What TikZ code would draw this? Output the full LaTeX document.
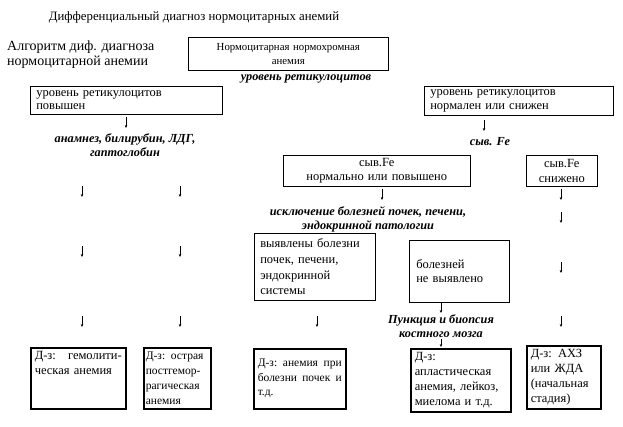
\documentclass[tikz,border=0pt]{standalone}
\usepackage{fontspec}
\setmainfont{Liberation Serif}
\usetikzlibrary{arrows.meta}
\begin{document}
\begin{tikzpicture}[x=1pt,y=-1pt,
  box/.style={draw, line width=0.6pt, inner xsep=6pt, inner ysep=0pt, anchor=north west, font=\fontsize{12.5}{14.5}\selectfont},
  tbox/.style={box, line width=1.6pt, inner xsep=4pt, font=\fontsize{12.5}{15}\selectfont},
  lab/.style={font=\fontsize{12.3}{14.5}\selectfont\bfseries\itshape, align=center, inner sep=0pt},
  plain/.style={font=\fontsize{14}{14.5}\selectfont, inner sep=0pt},
  arr/.style={-{Stealth[length=3pt,width=2.6pt]}, line width=0.5pt}]
\useasboundingbox (0,0) rectangle (623,427);

% title and side label
\node[font=\fontsize{12.8}{15}\selectfont, inner sep=0pt] (title) at (194,17) {Дифференциальный диагноз нормоцитарных анемий};
\node[plain, anchor=north west, align=left] (alg) at (7,41) {Алгоритм диф. диагноза\\нормоцитарной анемии};

% boxes
\node[box, minimum width=200pt, minimum height=33pt, text width=188pt, align=center, font=\fontsize{10.8}{14}\selectfont] (top) at (188,37) {Нормоцитарная нормохромная\\анемия};
\node[lab] (ret) at (306,79) {уровень ретикулоцитов};

\node[box, minimum width=192pt, minimum height=28pt, text width=180pt, align=left, font=\fontsize{12.5}{13.5}\selectfont] (up) at (30,86) {уровень ретикулоцитов\\повышен};
\node[box, minimum width=189pt, minimum height=29pt, text width=177pt, align=left, font=\fontsize{12.5}{13.5}\selectfont] (norm) at (424,86) {уровень ретикулоцитов\\нормален или снижен};

\node[lab] (anam) at (125,145) {анамнез, билирубин, ЛДГ,\\гаптоглобин};
\node[lab] (fe) at (490,142) {сыв. Fe};

\node[box, minimum width=187pt, minimum height=31pt, text width=175pt, align=center] (feN) at (283,155) {сыв.Fe\\нормально или повышено};
\node[box, minimum width=71pt, minimum height=31pt, text width=59pt, align=center] (feL) at (526,155) {сыв.Fe\\снижено};

\node[lab] (excl) at (368,219.5) {исключение болезней почек, печени,\\эндокринной патологии};

\node[box, minimum width=121pt, minimum height=67pt, text width=109pt, align=left, font=\fontsize{12.5}{15.7}\selectfont] (found) at (254,233) {выявлены болезни\\почек, печени,\\эндокринной\\системы};
\node[box, minimum width=99pt, minimum height=62pt, text width=86pt, align=left, inner xsep=7pt] (none) at (409,240) {болезней\\не выявлено};

\node[lab] (punc) at (441,326) {Пункция и биопсия\\костного мозга};

% diagnosis boxes
\node[tbox, minimum width=95pt, minimum height=61pt, text width=87pt, align=left] (d1) at (30,347) {Д-з:\hfill гемолити-\\ческая анемия\\\mbox{}\\\mbox{}};
\node[tbox, minimum width=67pt, minimum height=61pt, text width=63pt, align=left, inner xsep=2pt, font=\fontsize{11.5}{15}\selectfont] (d2) at (143,347) {Д-з: острая\\постгемор-\\рагическая\\анемия};
\node[tbox, minimum width=92pt, minimum height=60pt, text width=84pt, align=left, font=\fontsize{11.5}{14.5}\selectfont] (d3) at (253,348) {Д-з:\hfill анемия\hfill при\\болезни\hfill почек\hfill и\\т.д.};
\node[tbox, minimum width=100pt, minimum height=63pt, text width=92pt, align=left] (d4) at (410,348) {Д-з:\\апластическая\\анемия, лейкоз,\\миелома и т.д.};
\node[tbox, minimum width=74pt, minimum height=63pt, text width=66pt, align=left] (d5) at (526,345) {Д-з: АХЗ\\или ЖДА\\(начальная\\стадия)};

% small arrows
\foreach \x/\y in {126/117, 484/120, 82/186, 180/186, 382/189, 561/189, 561/212, 82/246, 180/246, 561/262, 441/302, 82/316, 180/316, 317/316, 561/316}
  \draw[arr] (\x,\y) -- ++(0,11);
\draw[arr] (441,339) -- ++(0,8);
\end{tikzpicture}
\end{document}
